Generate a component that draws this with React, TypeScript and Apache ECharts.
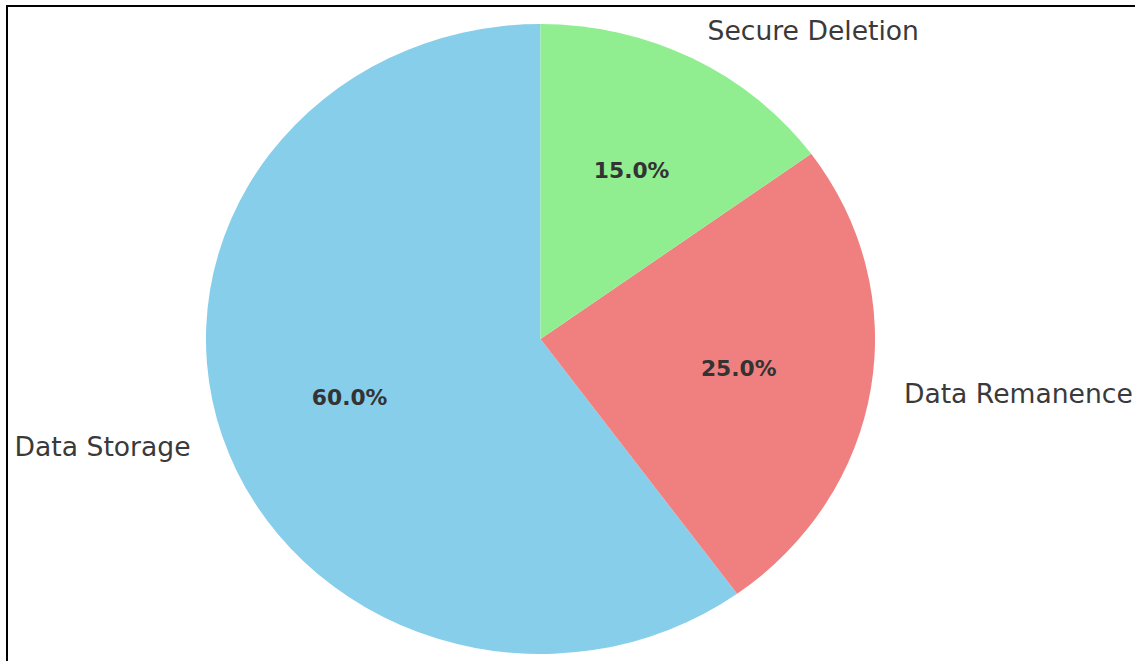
import React, { useEffect, useRef } from "react";
import * as echarts from "echarts";

const categories = ["Data Storage", "Data Remanence", "Secure Deletion"];
const values = [60, 25, 15];
const colors = ["#87CEEB", "#F08080", "#90EE90"];

export default function App() {
  const ref = useRef<HTMLDivElement>(null);
  useEffect(() => {
    if (!ref.current) return;
    const chart = echarts.init(ref.current, null, { renderer: "svg" });
    const cx = 540.5;
    const cy = 339;
    const rx = 334.5;
    const ry = 315;
    const total = values.reduce((a, b) => a + b, 0);
    const startDeg = 90;

    chart.setOption({
      animation: false,
      backgroundColor: "#ffffff",
      graphic: [
        {
          type: "rect",
          shape: { x: 7, y: 6, width: 1200, height: 700 },
          style: { fill: "none", stroke: "#000000", lineWidth: 2 },
          silent: true,
        },
      ],
      series: [
        {
          type: "custom",
          coordinateSystem: "none",
          data: values.map((v, i) => ({ value: [v], name: categories[i] })),
          renderItem: (params: any, api: any) => {
            const i = params.dataIndex;
            const v = api.value(0) as number;
            let before = 0;
            for (let k = 0; k < i; k++) before += values[k];
            const a1 = ((startDeg + (before / total) * 360) * Math.PI) / 180;
            const a2 = ((startDeg + ((before + v) / total) * 360) * Math.PI) / 180;
            const mid = (a1 + a2) / 2;
            const lx = cx + 1.1 * rx * Math.cos(mid);
            const ly = cy - 1.1 * ry * Math.sin(mid);
            const px = cx + 0.6 * rx * Math.cos(mid);
            const py = cy - 0.6 * ry * Math.sin(mid);
            const pct = ((v / total) * 100).toFixed(1) + "%";
            return {
              type: "group",
              children: [
                {
                  type: "group",
                  x: cx,
                  y: cy,
                  scaleX: rx / ry,
                  scaleY: 1,
                  children: [
                    {
                      type: "sector",
                      shape: {
                        cx: 0,
                        cy: 0,
                        r0: 0,
                        r: ry,
                        startAngle: -a2,
                        endAngle: -a1,
                        clockwise: true,
                      },
                      style: { fill: colors[i] },
                    },
                  ],
                },
                {
                  type: "text",
                  x: lx,
                  y: ly,
                  z2: 10,
                  style: {
                    text: categories[i],
                    fill: "#3a3a3a",
                    fontFamily: "DejaVu Sans",
                    fontSize: 26.6,
                    align: Math.cos(mid) < 0 ? "right" : "left",
                    verticalAlign: "middle",
                  },
                },
                {
                  type: "text",
                  x: px,
                  y: py,
                  z2: 10,
                  style: {
                    text: pct,
                    fill: "#333333",
                    fontFamily: "DejaVu Sans",
                    fontWeight: "bold",
                    fontSize: 21.8,
                    align: "center",
                    verticalAlign: "middle",
                  },
                },
              ],
            };
          },
        },
      ],
    });
    return () => chart.dispose();
  }, []);
  return (
    <div
      ref={ref}
      style={{ position: "absolute", left: 0, top: 0, width: 1135, height: 661 }}
    />
  );
}
